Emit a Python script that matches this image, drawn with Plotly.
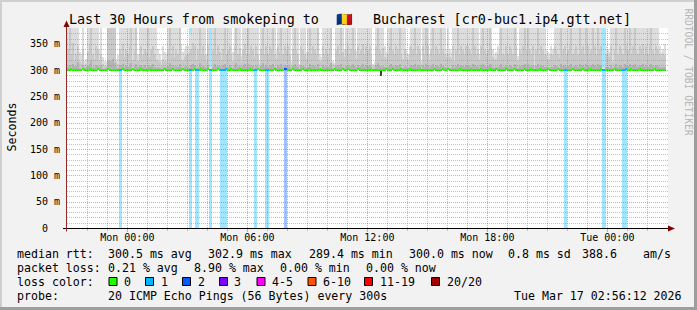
import math
import plotly.graph_objects as go
import pandas as pd

# ---------------- text ----------------
TITLE_PARTS = ["Last 30 Hours from smokeping to", "🇷🇴", "Bucharest [cr0-buc1.ip4.gtt.net]"]
Y_TITLE = "Seconds"
WATERMARK = "RRDTOOL / TOBI OETIKER"

# ---------------- data ----------------
FIRST_STEP = "2026-03-15 21:00"   # 5-minute steps, 30 hours
STEP_MINUTES = 5

median_ms = [
    300.3,300.3,301.8,300.3,300.3,300.3,299.6,300.3,300.3,301.8,300.3,300.3,
    300.3,301.8,300.3,300.3,300.3,300.3,301.8,300.3,299.6,300.3,300.3,300.3,
    301.8,300.3,300.3,300.3,300.3,300.3,300.3,300.3,300.3,301.8,300.3,300.3,
    300.3,300.3,300.3,301.8,300.3,300.3,300.3,300.3,301.8,300.3,300.3,300.3,
    300.3,301.8,300.3,300.3,300.3,299.6,300.3,300.3,300.3,300.3,301.8,300.3,
    300.3,300.3,300.3,301.8,300.3,300.3,300.3,300.3,300.3,301.8,300.3,300.3,
    300.3,300.3,300.3,300.3,301.8,300.3,300.3,300.3,301.8,300.3,300.3,300.3,
    301.8,300.3,300.3,300.3,300.3,300.3,301.8,300.3,300.3,300.3,300.3,301.8,
    300.3,300.3,301.8,300.3,300.3,300.3,300.3,301.8,300.3,300.3,300.3,300.3,
    300.3,301.8,300.3,300.3,300.3,300.3,301.8,300.3,300.3,300.3,300.3,300.3,
    300.3,300.3,300.3,300.3,301.8,300.3,300.3,300.3,300.3,300.3,301.8,301.8,
    300.3,300.3,300.3,301.8,300.3,300.3,300.3,300.3,300.3,301.8,300.3,300.3,
    300.3,301.8,300.3,300.3,300.3,300.3,300.3,301.8,300.3,300.3,300.3,300.3,
    300.3,300.3,300.3,300.3,301.8,300.3,300.3,300.3,300.3,301.8,300.3,300.3,
    301.8,300.3,300.3,300.3,300.3,300.3,301.8,300.3,300.3,300.3,300.3,300.3,
    300.3,300.3,301.8,300.3,300.3,300.3,300.3,300.3,300.0,300.3,300.3,301.8,
    300.3,300.3,300.3,301.8,300.3,300.3,300.3,300.3,301.8,300.3,300.3,300.3,
    300.3,301.8,300.3,300.3,300.3,300.3,300.3,301.8,300.3,300.3,300.3,300.3,
    300.3,300.3,300.3,300.3,301.8,300.3,300.3,300.3,300.3,301.8,300.3,300.3,
    301.8,300.3,300.3,300.3,300.3,300.3,300.3,301.8,300.3,300.3,300.3,300.3,
    300.3,300.3,301.8,300.3,300.3,300.3,300.3,300.3,301.8,300.3,300.3,300.3,
    300.3,301.8,300.3,300.3,300.3,301.8,300.3,300.3,300.3,300.3,300.3,301.8,
    300.3,300.3,300.3,300.3,301.8,300.3,300.3,300.3,300.3,300.3,301.8,300.3,
    300.3,300.3,301.8,300.3,300.3,300.3,300.3,301.8,300.3,300.3,300.3,300.3,
    301.8,300.3,300.3,300.3,300.3,300.3,301.8,300.3,300.3,300.3,300.3,300.3,
    300.3,300.3,300.3,301.8,300.3,300.3,300.3,300.3,300.3,301.8,300.3,300.3,
    300.3,301.8,300.3,300.3,300.3,300.3,300.3,300.3,301.8,300.3,300.3,300.3,
    300.3,300.3,300.3,300.3,301.8,300.3,300.3,300.3,300.3,300.3,300.3,301.8,
    300.3,300.3,301.8,300.3,300.3,300.3,300.3,301.8,300.3,300.3,300.3,300.3,
    300.3,300.3,300.3,300.3,301.8,300.3,300.3,300.3,300.3,300.3,300.0,None,
]

smoke_top = [
    420,420,420,420,420,420,420,335,330,420,318,322,
    420,420,420,420,420,420,420,340,420,325,318,315,
    420,420,420,420,420,322,328,420,420,420,420,420,
    420,420,420,420,420,420,330,420,420,420,420,420,
    420,420,420,420,420,420,340,330,320,345,335,330,
    420,420,420,420,420,420,420,420,350,335,340,345,
    345,370,365,420,420,420,420,420,420,420,420,330,
    420,305,305,420,420,420,420,420,420,420,420,420,
    420,420,420,335,420,420,420,420,326,420,420,420,
    420,420,420,420,420,420,420,318,420,420,420,420,
    420,420,420,420,420,338,420,420,420,420,420,420,
    420,420,315,420,420,420,420,312,420,420,420,335,
    420,420,420,420,420,420,420,330,325,420,420,420,
    420,420,420,318,314,420,420,420,420,420,340,420,
    420,420,420,420,420,336,420,420,420,420,420,420,
    420,420,420,312,316,420,420,420,420,420,345,335,
    420,420,420,420,420,420,420,420,420,420,420,340,
    330,345,420,420,420,420,420,420,318,420,420,420,
    420,328,420,420,420,420,420,420,420,420,420,340,
    420,340,335,420,420,420,420,420,420,420,420,420,
    420,420,420,420,420,420,420,330,420,420,420,420,
    420,420,420,340,330,335,345,420,420,420,420,420,
    420,420,420,420,420,420,326,420,420,420,420,420,
    420,420,420,420,420,420,420,420,420,420,420,340,
    335,330,345,340,420,420,420,420,420,420,420,420,
    420,420,420,420,420,420,420,420,420,420,420,420,
    420,420,420,420,420,420,420,420,420,305,305,345,
    340,335,420,420,420,420,420,420,420,420,420,420,
    420,420,420,420,420,420,420,420,420,420,420,420,
    420,420,420,420,420,420,420,345,335,340,350,None,
]

smoke_mid = [
    340,400,330,352,318,330,345,315,312,340,310,312,
    335,350,390,330,322,345,338,318,330,312,308,308,
    400,400,395,400,380,315,312,340,330,350,325,338,
    330,345,400,320,338,385,318,330,345,328,340,335,
    400,325,338,345,330,320,318,315,310,322,318,316,
    340,400,330,345,325,338,330,380,322,318,325,328,
    330,335,340,352,345,320,338,400,330,345,328,318,
    345,303,303,338,395,330,345,335,320,340,400,330,
    338,345,330,318,345,400,330,342,315,338,350,330,
    400,330,345,338,325,345,330,310,340,385,330,345,
    330,345,338,400,330,322,345,335,390,330,345,338,
    345,330,310,340,400,338,330,308,345,338,330,322,
    335,400,330,345,338,330,380,318,315,345,330,340,
    330,342,400,312,310,338,345,330,400,335,325,340,
    345,330,340,400,338,322,345,330,338,350,330,345,
    338,345,330,308,310,345,400,338,330,342,325,322,
    330,345,400,338,330,345,338,385,330,322,340,325,
    320,330,345,338,400,330,345,338,312,345,330,390,
    345,318,338,400,330,345,338,330,400,340,330,325,
    330,325,322,345,318,338,400,330,345,338,330,345,
    345,338,330,400,345,330,338,320,345,390,338,330,
    338,400,345,325,320,322,330,338,400,330,328,345,
    330,345,338,330,400,345,318,338,330,345,385,338,
    400,338,330,345,308,338,400,330,345,338,330,328,
    322,320,330,328,345,338,330,325,400,338,345,330,
    338,345,400,330,338,345,330,400,338,345,330,390,
    345,330,338,400,345,330,385,338,345,303,303,330,
    328,325,345,315,338,400,330,345,338,330,400,345,
    338,400,330,345,400,338,330,345,338,350,330,345,
    330,345,400,338,330,345,338,330,325,330,328,None,
]

smoke_core = [
    306,310,304,312,305,308,315,304,303,309,304,305,
    308,312,318,306,304,310,307,305,309,303,303,304,
    320,318,316,322,314,306,304,310,307,312,306,309,
    305,309,314,304,308,312,305,307,310,306,309,304,
    310,305,307,312,306,304,305,304,303,306,305,304,
    308,313,305,310,304,307,306,311,305,304,306,307,
    305,304,309,312,310,304,306,314,305,308,306,304,
    309,302,302,306,311,305,308,307,304,309,312,306,
    306,310,305,304,309,314,306,308,304,307,311,305,
    312,305,309,307,304,310,306,303,308,313,305,309,
    305,309,307,312,305,304,310,306,311,305,309,307,
    310,305,303,308,312,307,305,303,310,307,305,304,
    306,311,305,309,307,305,312,304,303,310,305,308,
    305,308,313,304,303,307,310,305,312,306,304,308,
    310,305,308,312,307,304,310,305,307,311,305,309,
    307,310,305,303,304,310,313,307,305,308,306,305,
    305,309,312,307,305,310,307,311,305,304,308,305,
    304,305,310,307,312,305,309,307,303,310,305,311,
    309,304,307,311,305,310,307,305,312,308,305,304,
    305,304,304,310,304,307,311,305,309,307,305,310,
    310,307,305,312,309,305,307,304,310,311,307,305,
    307,311,309,305,304,305,306,307,312,305,305,309,
    305,310,307,305,312,309,304,307,305,310,311,307,
    311,307,305,309,303,307,312,305,310,307,305,305,
    305,304,306,305,310,307,305,304,311,307,309,305,
    307,310,312,305,307,309,305,311,307,310,305,312,
    309,305,307,312,310,305,311,307,309,302,302,305,
    305,304,310,304,307,312,305,309,307,305,312,310,
    307,311,305,309,312,307,305,310,307,311,305,309,
    305,310,312,307,305,309,307,305,304,305,305,None,
]

dip_times = ["2026-03-16 12:40"]
dip_low_ms = [289.4]

loss_times = [
    "2026-03-15 23:35", "2026-03-15 23:40",
    "2026-03-16 03:05", "2026-03-16 03:10",
    "2026-03-16 03:25", "2026-03-16 03:30",
    "2026-03-16 04:05", "2026-03-16 04:10",
    "2026-03-16 04:40", "2026-03-16 04:45", "2026-03-16 04:50", "2026-03-16 04:55",
    "2026-03-16 06:20", "2026-03-16 06:25",
    "2026-03-16 06:55", "2026-03-16 07:00",
    "2026-03-16 07:50", "2026-03-16 07:55",
    "2026-03-16 21:50", "2026-03-16 21:55",
    "2026-03-16 23:45", "2026-03-16 23:50",
    "2026-03-17 00:45", "2026-03-17 00:50", "2026-03-17 00:55",
]
loss_counts = [1, 1, 1, 1, 1, 1, 1, 1, 1, 1, 1, 1, 1, 1, 1, 1, 2, 2, 1, 1, 1, 1, 1, 1, 1]

y_tick_values = [0, 50, 100, 150, 200, 250, 300, 350]
y_tick_labels = ["0\u00a0\u00a0", "50 m", "100 m", "150 m", "200 m", "250 m", "300 m", "350 m"]

rtt_label = "median rtt:"
rtt_items = ["300.5 ms avg", "302.9 ms max", "289.4 ms min", "300.0 ms now", "0.8 ms sd", "388.6", "am/s"]
pl_label = "packet loss:"
pl_items = ["0.21 % avg", "8.90 % max", "0.00 % min", "0.00 % now"]
lc_label = "loss color:"
lc_labels = ["0", "1", "2", "3", "4-5", "6-10", "11-19", "20/20"]
lc_colors = ["#26ff00", "#00b8ff", "#0059ff", "#7e00ff", "#ff00ff", "#ff5500", "#ff0000", "#a10000"]
probe_label = "probe:"
probe_text = "20 ICMP Echo Pings (56 Bytes) every 300s"
stamp_text = "Tue Mar 17 02:56:12 2026"

# ---------------- layout constants ----------------
W, H = 697, 310
PL, PT, PW, PH = 67, 28, 601, 200
Y_MAX = 380
X_RANGE = ["2026-03-15 20:59", "2026-03-17 03:02"]
MONO = "DejaVu Sans Mono"
BG = "#f2f2f2"


def xp(px):
    return (px - PL) / PW


def yp(py):
    return (PT + PH - py) / PH


def lighten(hexcol, a=0.37):
    r, g, b = int(hexcol[1:3], 16), int(hexcol[3:5], 16), int(hexcol[5:7], 16)
    r, g, b = (round(255 * (1 - a) + c * a) for c in (r, g, b))
    return f"rgb({r},{g},{b})"


x_start = pd.Timestamp(X_RANGE[0])
x_span_h = (pd.Timestamp(X_RANGE[1]) - x_start) / pd.Timedelta(hours=1)


def time_px(t):
    return PL + (pd.Timestamp(t) - x_start) / pd.Timedelta(hours=1) * PW / x_span_h


def value_py(v):
    return PT + PH - v * PH / Y_MAX


step_ms = STEP_MINUTES * 60 * 1000
times = pd.date_range(FIRST_STEP, periods=len(median_ms), freq=f"{STEP_MINUTES}min")
centers = times + pd.Timedelta(minutes=STEP_MINUTES / 2)

idx = [i for i, m in enumerate(median_ms) if m is not None]
xs = [centers[i] for i in idx]
base = [median_ms[i] - 1.0 for i in idx]

loss_map = {pd.Timestamp(t): c for t, c in zip(loss_times, loss_counts)}

fig = go.Figure()

# loss background columns
fig.add_trace(go.Bar(
    x=[pd.Timestamp(t) + pd.Timedelta(minutes=STEP_MINUTES / 2) for t in loss_times],
    y=[Y_MAX] * len(loss_times), base=[0] * len(loss_times), width=step_ms,
    marker=dict(color=[lighten(lc_colors[c]) for c in loss_counts], line=dict(width=0)),
    hoverinfo="skip", showlegend=False))

# smoke layers
for arr, col in ((smoke_top, "#dddddd"), (smoke_mid, "#c9c9c9"), (smoke_core, "#b2b2b2")):
    tops = [min(arr[i], smoke_top[i]) for i in idx]
    fig.add_trace(go.Bar(
        x=xs, base=base, y=[t - b for t, b in zip(tops, base)], width=step_ms,
        marker=dict(color=col, line=dict(width=0)), hoverinfo="skip", showlegend=False))

# dip below the median
dip_x = [pd.Timestamp(t) + pd.Timedelta(minutes=STEP_MINUTES / 2) for t in dip_times]
dip_med = [median_ms[list(times).index(pd.Timestamp(t))] for t in dip_times]
fig.add_trace(go.Bar(
    x=dip_x, base=dip_low_ms, y=[m - d for m, d in zip(dip_med, dip_low_ms)], width=step_ms,
    marker=dict(color="#3c3c3c", line=dict(width=0)), hoverinfo="skip", showlegend=False))

# median line coloured by loss
med_cols = [lc_colors[loss_map.get(times[i], 0)] for i in idx]
fig.add_trace(go.Bar(
    x=xs, base=[median_ms[i] - 1.9 for i in idx], y=[3.8] * len(idx), width=step_ms,
    marker=dict(color=med_cols, line=dict(width=0)), hoverinfo="skip", showlegend=False))

shapes = []
# grid (drawn above data, like rrdtool), snapped to pixel centres
GRID = "rgba(143,143,143,0.55)"
MGRID = "rgba(222,79,79,0.55)"
for v in range(10, Y_MAX, 10):
    y = yp(round(value_py(v)) + 0.5)
    shapes.append(dict(type="line", xref="paper", yref="paper", x0=0, x1=1, y0=y, y1=y,
                       layer="above", line=dict(color=MGRID if v % 50 == 0 else GRID, width=1, dash="1px,1px")))
hours = pd.date_range("2026-03-15 22:00", "2026-03-17 02:00", freq="1h")
for hcur in hours:
    major = hcur.hour % 6 == 0
    x = xp(math.floor(time_px(hcur)) + 0.5)
    shapes.append(dict(type="line", xref="paper", yref="paper", x0=x, x1=x, y0=0, y1=1,
                       layer="above", line=dict(color=MGRID if major else GRID, width=1, dash="1px,1px")))
    shapes.append(dict(type="line", xref="paper", yref="paper", x0=x, x1=x, y0=yp(229), y1=yp(232 if major else 231),
                       layer="above", line=dict(color=MGRID if major else GRID, width=1)))

# axes + arrows
shapes.append(dict(type="line", xref="paper", yref="paper", x0=xp(63), x1=xp(670), y0=yp(228.5), y1=yp(228.5),
                   layer="above", line=dict(color="#000000", width=1)))
shapes.append(dict(type="line", xref="paper", yref="paper", x0=xp(66.5), x1=xp(66.5), y0=yp(231.5), y1=yp(24),
                   layer="above", line=dict(color="#8c2a2a", width=1)))
shapes.append(dict(type="path", xref="paper", yref="paper", layer="above",
                   path=f"M {xp(668)} {yp(225.5)} L {xp(675)} {yp(228.5)} L {xp(668)} {yp(231.5)} Z",
                   fillcolor="#800000", line=dict(width=0)))
shapes.append(dict(type="path", xref="paper", yref="paper", layer="above",
                   path=f"M {xp(63.5)} {yp(27)} L {xp(66.5)} {yp(20.5)} L {xp(69.5)} {yp(27)} Z",
                   fillcolor="#800000", line=dict(width=0)))

# 3D frame
shapes += [
    dict(type="rect", xref="paper", yref="paper", x0=xp(0), x1=xp(W), y0=yp(0), y1=yp(2), fillcolor="#cfcfcf", line=dict(width=0)),
    dict(type="rect", xref="paper", yref="paper", x0=xp(0), x1=xp(2), y0=yp(0), y1=yp(H), fillcolor="#cfcfcf", line=dict(width=0)),
    dict(type="rect", xref="paper", yref="paper", x0=xp(W - 3), x1=xp(W), y0=yp(0), y1=yp(H), fillcolor="#9e9e9e", line=dict(width=0)),
    dict(type="rect", xref="paper", yref="paper", x0=xp(0), x1=xp(W), y0=yp(H - 3), y1=yp(H), fillcolor="#9e9e9e", line=dict(width=0)),
]

ann = []


def text(px, py, s, size=11.6, anchor="left", color="#000000", angle=0, yanchor="middle"):
    ann.append(dict(x=xp(px), y=yp(py), xref="paper", yref="paper", text=s, showarrow=False,
                    xanchor=anchor, yanchor=yanchor, textangle=angle, borderpad=0,
                    font=dict(family=MONO, size=size, color=color)))


# title
text(68, 19, TITLE_PARTS[0], size=13.4)
text(344, 19, TITLE_PARTS[1], size=13.4, anchor="center")
text(372, 19, TITLE_PARTS[2], size=13.4)
# y label + watermark
text(11.5, 127, Y_TITLE, anchor="center", angle=-90)
text(688, 7, WATERMARK, size=9.6, anchor="center", color="#b5b5b5", angle=90, yanchor="top")

# legend lines
text(16, 254, rtt_label)
for s, x in zip(rtt_items, [107.3, 207, 308, 407.7, 507.3, 581, 642.3]):
    text(x, 254, s)
text(16, 268, pl_label)
for s, x in zip(pl_items, [107.3, 193.3, 278.7, 365.3]):
    text(x, 268, s)
text(16, 282, lc_label)
box_x = [109, 145.5, 182.5, 219.5, 257, 308, 364.5, 431.5]
for s, c, bx in zip(lc_labels, lc_colors, box_x):
    shapes.append(dict(type="rect", xref="paper", yref="paper", x0=xp(bx), x1=xp(bx + 8), y0=yp(277.5), y1=yp(285.5),
                       fillcolor=c, line=dict(color="#000000", width=1)))
    text(bx + 14, 282, s)
text(16, 296.3, probe_label)
text(107.3, 296.3, probe_text)
text(513.3, 296.3, stamp_text)

fig.update_layout(
    width=W, height=H, margin=dict(l=PL, r=W - PL - PW, t=PT, b=H - PT - PH),
    paper_bgcolor=BG, plot_bgcolor="#ffffff", barmode="overlay", bargap=0,
    showlegend=False, shapes=shapes, annotations=ann,
    font=dict(family=MONO, size=10, color="#000000"),
    xaxis=dict(type="date", range=X_RANGE, showgrid=False, zeroline=False, showline=False,
               tick0="2026-03-16 00:00", dtick=6 * 3600 * 1000, tickformat="%a %H:%M",
               ticks="", ticklabelstandoff=2, tickfont=dict(family=MONO, size=10)),
    yaxis=dict(range=[0, Y_MAX], showgrid=False, zeroline=False, showline=False,
               tickmode="array", tickvals=y_tick_values, ticktext=y_tick_labels,
               ticks="", ticklabelstandoff=6, tickfont=dict(family=MONO, size=10)),
)

fig.write_html("out.html")
